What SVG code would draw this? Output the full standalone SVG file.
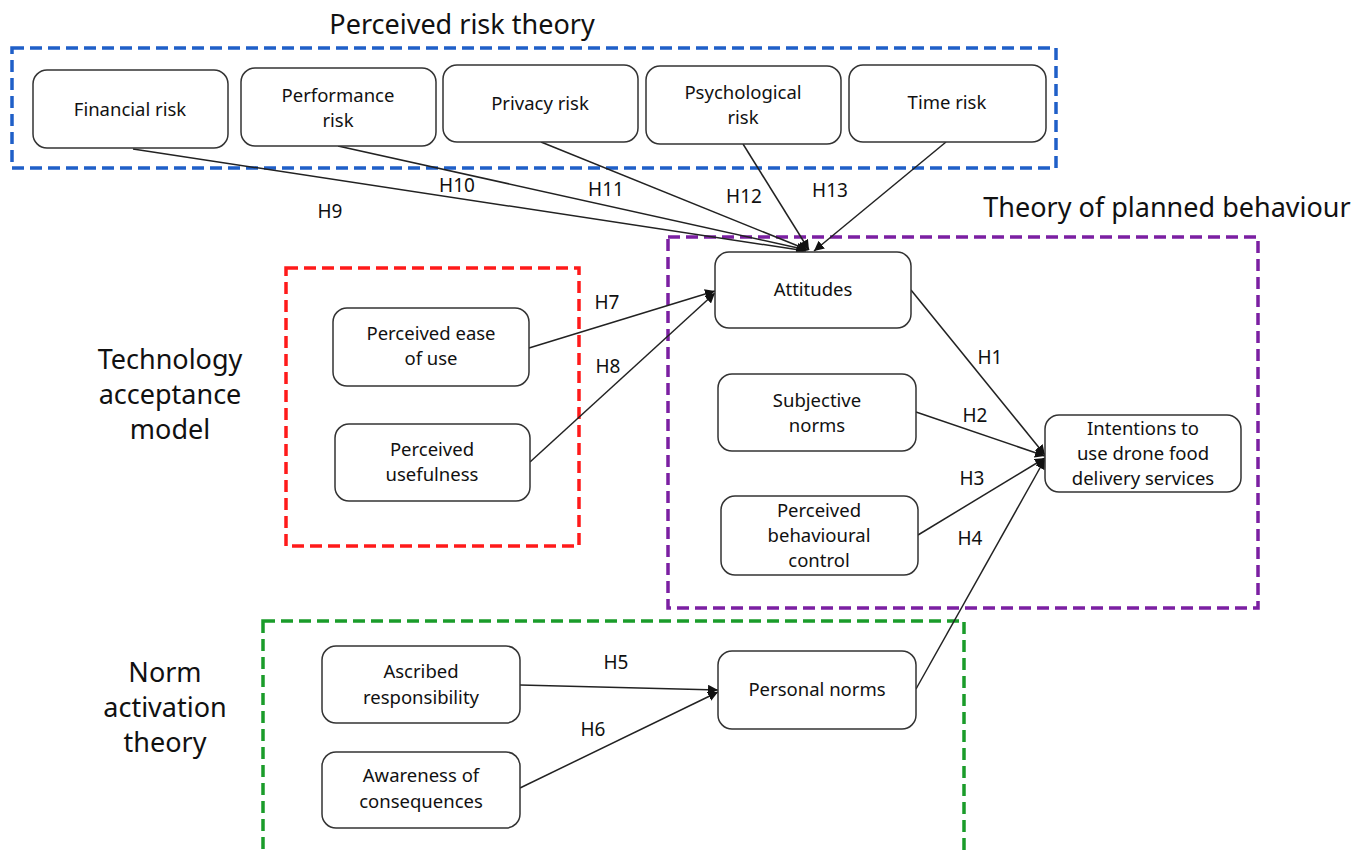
<svg xmlns="http://www.w3.org/2000/svg" width="1369" height="853" viewBox="0 0 1369 853">
<style>
.node rect{fill:#fff;stroke:#333;stroke-width:1.5}
.node text,.lbl{font-family:"Noto Sans","Liberation Sans",sans-serif;font-size:18.5px;fill:#111;text-anchor:middle}
.lbl{font-size:19px}
.title{font-family:"Noto Sans","Liberation Sans",sans-serif;font-size:27px;fill:#111;text-anchor:middle}
.grp{fill:none;stroke-width:3.5;stroke-dasharray:12 6}
#connectors line{stroke:#222;stroke-width:1.5;marker-end:url(#arr)}
</style>
<defs>
<marker id="arr" viewBox="0 0 10 10" refX="10" refY="5" markerWidth="10" markerHeight="10" markerUnits="userSpaceOnUse" orient="auto">
<path d="M0,0 L10,5 L0,10 z" fill="#111"/>
</marker>
</defs>
<rect width="1369" height="853" fill="#fff"/>
<g id="groups">
<rect class="grp" x="12" y="48" width="1044" height="120" stroke="#1f5fc8"/>
<rect class="grp" x="668" y="237" width="590" height="371" stroke="#7b1fa2"/>
<rect class="grp" x="286" y="268" width="293" height="278" stroke="#ff1a1a"/>
<rect class="grp" x="263" y="621" width="701" height="250" stroke="#1a9c2a"/>
<text class="title" x="462" y="34">Perceived risk theory</text>
<text class="title" x="1167" y="217">Theory of planned behaviour</text>
<text class="title" x="170" y="369">Technology</text>
<text class="title" x="170" y="404">acceptance</text>
<text class="title" x="170" y="439">model</text>
<text class="title" x="165" y="682">Norm</text>
<text class="title" x="165" y="717">activation</text>
<text class="title" x="165" y="752">theory</text>
</g>
<g id="connectors">
<line x1="133" y1="149" x2="806" y2="251"/>
<line x1="338" y1="146" x2="807" y2="250"/>
<line x1="541" y1="142" x2="808" y2="250"/>
<line x1="743" y1="144" x2="809" y2="250"/>
<line x1="946" y1="142" x2="814" y2="251"/>
<line x1="529" y1="348" x2="715" y2="291"/>
<line x1="530" y1="462" x2="715" y2="293"/>
<line x1="911" y1="290" x2="1045" y2="455"/>
<line x1="916" y1="412" x2="1045" y2="456"/>
<line x1="918" y1="535" x2="1045" y2="458"/>
<line x1="916" y1="689" x2="1045" y2="459"/>
<line x1="520" y1="685" x2="718" y2="690"/>
<line x1="520" y1="788" x2="718" y2="692"/>
<text class="lbl" x="330" y="218">H9</text>
<text class="lbl" x="457" y="192">H10</text>
<text class="lbl" x="606" y="196">H11</text>
<text class="lbl" x="744" y="203">H12</text>
<text class="lbl" x="830" y="197">H13</text>
<text class="lbl" x="607" y="309">H7</text>
<text class="lbl" x="608" y="373">H8</text>
<text class="lbl" x="990" y="364">H1</text>
<text class="lbl" x="975" y="422">H2</text>
<text class="lbl" x="972" y="485">H3</text>
<text class="lbl" x="970" y="545">H4</text>
<text class="lbl" x="616" y="669">H5</text>
<text class="lbl" x="593" y="736">H6</text>
</g>
<g id="financial" class="node"><rect x="33" y="70" width="195" height="78" rx="14"/><text x="130" y="116">Financial risk</text></g>
<g id="performance" class="node"><rect x="241" y="68" width="195" height="78" rx="14"/><text x="338" y="102">Performance</text><text x="338" y="127">risk</text></g>
<g id="privacy" class="node"><rect x="443" y="65" width="195" height="77" rx="14"/><text x="540" y="110">Privacy risk</text></g>
<g id="psychological" class="node"><rect x="646" y="66" width="195" height="78" rx="14"/><text x="743" y="99">Psychological</text><text x="743" y="124">risk</text></g>
<g id="time" class="node"><rect x="849" y="65" width="197" height="77" rx="14"/><text x="947" y="109">Time risk</text></g>
<g id="attitudes" class="node"><rect x="715" y="252" width="196" height="76" rx="14"/><text x="813" y="296">Attitudes</text></g>
<g id="subjective" class="node"><rect x="718" y="374" width="198" height="77" rx="14"/><text x="817" y="407">Subjective</text><text x="817" y="432">norms</text></g>
<g id="pbc" class="node"><rect x="721" y="496" width="197" height="79" rx="14"/><text x="819" y="517">Perceived</text><text x="819" y="542">behavioural</text><text x="819" y="567">control</text></g>
<g id="intentions" class="node"><rect x="1045" y="415" width="196" height="77" rx="14"/><text x="1143" y="435">Intentions to</text><text x="1143" y="460">use drone food</text><text x="1143" y="485">delivery services</text></g>
<g id="ease" class="node"><rect x="333" y="308" width="196" height="78" rx="14"/><text x="431" y="340">Perceived ease</text><text x="431" y="365">of use</text></g>
<g id="usefulness" class="node"><rect x="335" y="424" width="195" height="77" rx="14"/><text x="432" y="456">Perceived</text><text x="432" y="481">usefulness</text></g>
<g id="ascribed" class="node"><rect x="322" y="646" width="198" height="77" rx="14"/><text x="421" y="678">Ascribed</text><text x="421" y="704">responsibility</text></g>
<g id="awareness" class="node"><rect x="322" y="752" width="198" height="76" rx="14"/><text x="421" y="782">Awareness of</text><text x="421" y="808">consequences</text></g>
<g id="personal" class="node"><rect x="718" y="651" width="198" height="78" rx="14"/><text x="817" y="696">Personal norms</text></g>
</svg>
